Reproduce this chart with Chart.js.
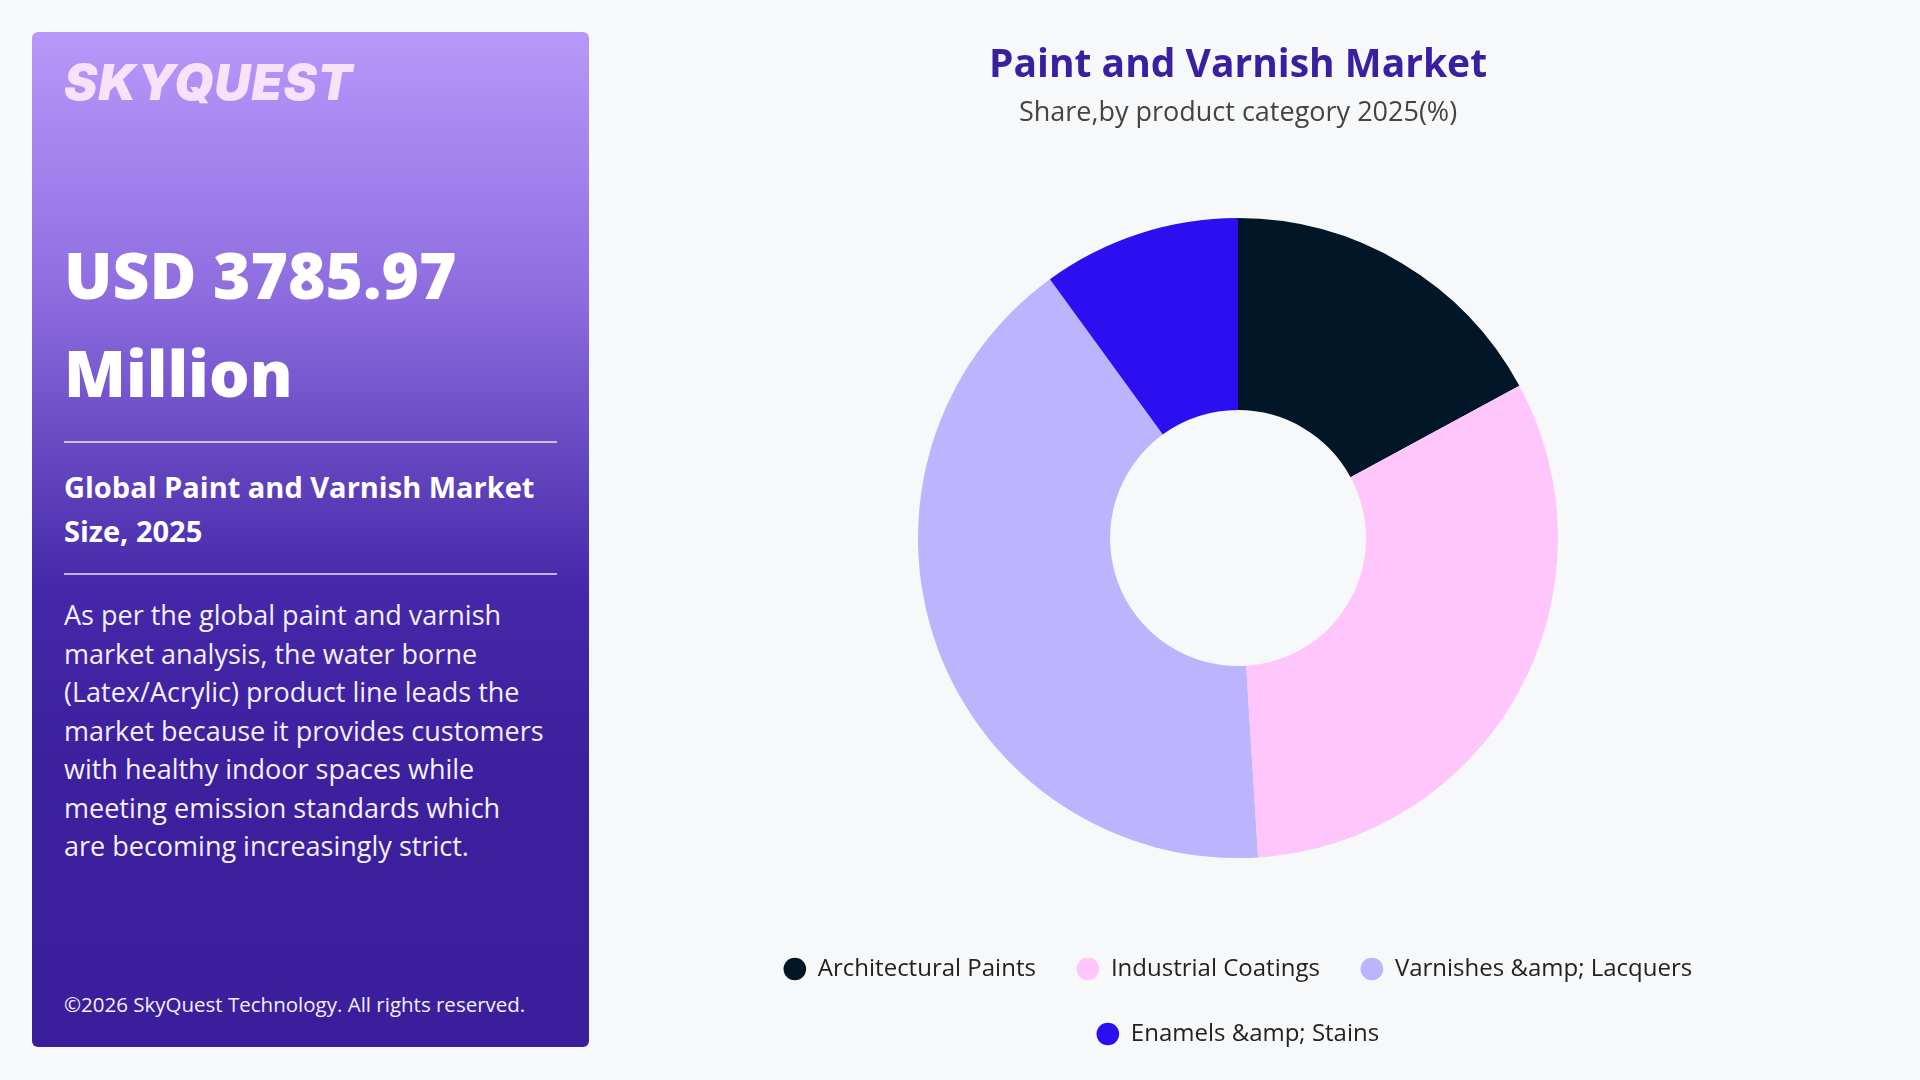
<!DOCTYPE html>
<html>
<head>
<meta charset="utf-8">
<script src="https://cdn.jsdelivr.net/npm/chart.js@4"></script>
<style>
  html, body { margin: 0; padding: 0; width: 1920px; height: 1080px; overflow: hidden; background: #F7F8FA; }
  body { font-family: "Open Sans", sans-serif; position: relative; }
  .panel {
    position: absolute; left: 32px; top: 32px; width: 557px; height: 1015px;
    border-radius: 6px; box-sizing: border-box; padding: 0 32px;
    background: linear-gradient(180deg, #B898F9 0%, #8F6FE0 25%, #6A4BC4 40%, #4428A9 55%, #3C209E 72%, #3A1E9C 100%);
    color: #fff;
  }
  .logo { position: absolute; left: 32px; top: 20px; font-family: "Inter", sans-serif; font-weight: 900; font-style: italic;
    font-size: 50px; letter-spacing: 1px; color: #F8E2FB; }
  .big { position: absolute; left: 32px; top: 194px; font-family: "Open Sans", sans-serif; font-weight: 800; font-size: 64px; line-height: 98px; }
  .rule { position: absolute; left: 32px; width: 493px; height: 2px; background: rgba(255,255,255,0.65); }
  .sub { position: absolute; left: 32px; top: 433px; font-weight: 700; font-size: 29px; line-height: 44px; width: 510px; }
  .para { position: absolute; left: 32px; top: 564px; font-size: 27px; line-height: 38.5px; white-space: nowrap; color: #F4F0FF; }
  .foot { position: absolute; left: 32px; top: 958px; font-size: 20.5px; color: #F4F0FF; }
  .chartbox { position: absolute; left: 688px; top: 0; width: 1100px; height: 1056px; }
</style>
</head>
<body>
<div class="panel">
  <div class="logo">SKYQUEST</div>
  <div class="big">USD 3785.97<br>Million</div>
  <div class="rule" style="top:409px"></div>
  <div class="sub">Global Paint and Varnish Market<br>Size, 2025</div>
  <div class="rule" style="top:541px"></div>
  <div class="para">As per the global paint and varnish<br>market analysis, the water borne<br>(Latex/Acrylic) product line leads the<br>market because it provides customers<br>with healthy indoor spaces while<br>meeting emission standards which<br>are becoming increasingly strict.</div>
  <div class="foot">©2026 SkyQuest Technology. All rights reserved.</div>
</div>
<div class="chartbox"><canvas id="donut"></canvas></div>
<script>
const categories = ["Architectural Paints", "Industrial Coatings", "Varnishes &amp; Lacquers", "Enamels &amp; Stains"];
const shares = [17.1, 31.9, 41.0, 10.0];
const sliceColors = ["#011627", "#FFC6FB", "#BDB4FE", "#2B0FF0"];

const ctx = document.getElementById('donut').getContext('2d');
new Chart(ctx, {
  type: 'doughnut',
  data: {
    labels: categories,
    datasets: [{
      data: shares,
      backgroundColor: sliceColors,
      borderWidth: 0,
      hoverOffset: 0
    }]
  },
  options: {
    responsive: true,
    maintainAspectRatio: false,
    animation: false,
    radius: 320,
    cutout: '40%',
    layout: { padding: 0 },
    plugins: {
      title: {
        display: true,
        text: 'Paint and Varnish Market',
        color: '#3A1FA0',
        font: { family: 'Open Sans', size: 39, weight: '700', lineHeight: 1.2 },
        padding: { top: 42, bottom: 2 }
      },
      subtitle: {
        display: true,
        text: 'Share,by product category 2025(%)',
        color: '#444444',
        font: { family: 'Open Sans', size: 27, weight: '400', lineHeight: 1.2 },
        padding: { top: 6, bottom: 31 }
      },
      legend: {
        position: 'bottom',
        labels: {
          usePointStyle: true,
          pointStyle: 'circle',
          boxWidth: 22,
          boxHeight: 16,
          padding: 41,
          color: '#222222',
          font: { family: 'Open Sans', size: 24 }
        }
      },
      tooltip: { enabled: false }
    }
  }
});
</script>
</body>
</html>
